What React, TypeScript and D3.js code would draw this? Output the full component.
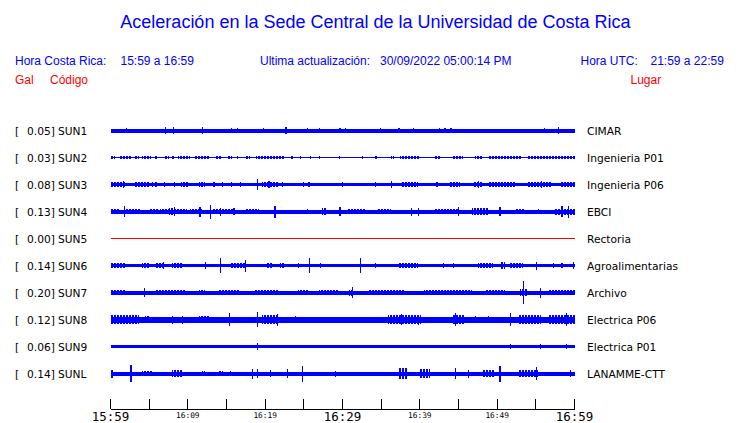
import React from "react";
import * as d3 from "d3";

const titleText = "Aceleración en la Sede Central de la Universidad de Costa Rica";
const localRange = "15:59 a 16:59";
const utcRange = "21:59 a 22:59";
const lastUpdate = "30/09/2022 05:00:14 PM";

const codes = ["SUN1", "SUN2", "SUN3", "SUN4", "SUN5", "SUN6", "SUN7", "SUN8", "SUN9", "SUNL"];
const peaks = [0.05, 0.03, 0.08, 0.13, 0.0, 0.14, 0.2, 0.12, 0.06, 0.14];
const places = [
  "CIMAR",
  "Ingenieria P01",
  "Ingenieria P06",
  "EBCI",
  "Rectoria",
  "Agroalimentarias",
  "Archivo",
  "Electrica P06",
  "Electrica P01",
  "LANAMME-CTT",
];

// background (noise) amplitude of each trace, relative units
const baseAmp = [2.0, 0.8, 1.8, 2.0, 0.5, 1.8, 2.0, 3.0, 1.5, 2.0];

// bursts: [startMinute, endMinute, amplitude]
const burstsSUN1 = [
  [2.0, 2.0, 2.4], [7.0, 7.0, 3.3], [8.1, 8.1, 3.3], [11.8, 12.0, 3.6], [15.6, 15.6, 2.7], [16.3, 16.5, 2.4],
  [19.7, 19.7, 2.7], [22.6, 22.8, 3.6], [25.4, 25.4, 2.5], [26.9, 27.1, 2.4], [29.5, 29.9, 2.4], [30.3, 30.3, 2.8],
  [34.8, 34.8, 2.6], [37.2, 37.4, 2.4], [39.1, 39.3, 2.4], [42.5, 42.6, 2.4], [43.1, 43.4, 2.7], [43.8, 44.1, 2.4],
  [56.0, 56.0, 2.6], [57.85, 57.85, 3.3],
];
const burstsSUN2 = [
  [0, 0.6, 1.3], [1.1, 2.8, 1.5], [3.2, 3.7, 1.2], [4.1, 5.2, 1.3], [5.8, 5.8, 1.2], [6.9, 7.5, 1.2], [8.0, 8.0, 1.2],
  [8.7, 10.3, 1.6], [10.8, 12.9, 1.4], [13.5, 14.4, 1.5], [15.1, 15.7, 1.3], [16.3, 16.3, 1.2], [17.4, 18.1, 1.2],
  [18.8, 22.6, 1.6], [23.4, 23.4, 1.2], [24.5, 24.5, 1.2], [25.8, 25.8, 1.2], [26.9, 26.9, 1.2], [29.5, 29.5, 1.2],
  [32.5, 32.5, 1.2], [34.2, 34.6, 1.3], [36.3, 36.6, 1.5], [37.4, 40.0, 1.5], [41.9, 42.6, 1.3], [44.1, 45.6, 1.4],
  [47.1, 48.2, 1.3], [48.8, 53.1, 1.4], [54.0, 60, 1.6],
];
const burstsSUN3 = [
  [0, 1.9, 2.4], [1.59, 1.59, 3.5], [3.2, 4.95, 2.3], [5.38, 5.38, 2.3], [5.8, 5.8, 2.3], [6.88, 6.88, 2.3],
  [8.17, 8.17, 2.3], [9.16, 10.0, 2.6], [11.4, 12.26, 2.4], [13.3, 13.3, 2.3], [14.4, 14.4, 2.4], [15.6, 15.6, 2.3],
  [16.77, 16.77, 2.3], [18.88, 18.88, 5.3], [19.57, 21.7, 2.9], [20.4, 20.6, 3.2], [22.15, 22.15, 2.3],
  [24.9, 24.9, 2.3], [25.6, 25.6, 2.3], [29.9, 29.9, 2.5], [34.2, 34.2, 2.3], [36.3, 36.3, 3.7], [37.6, 39.8, 2.5],
  [42.15, 42.15, 2.3], [43.9, 45.2, 2.6], [46.9, 48.2, 2.7], [47.5, 47.6, 3.2], [48.8, 52.3, 2.3], [54.0, 57.0, 2.7],
  [55.7, 55.7, 3.3], [58.1, 60, 2.4],
];
const burstsSUN4 = [
  [0, 1.08, 2.5], [1.72, 1.72, 5.8], [1.94, 3.87, 2.5], [4.95, 6.24, 2.4], [6.45, 9.89, 2.6], [7.53, 8.39, 3.2],
  [8.2, 8.3, 4.3], [10.3, 11.8, 2.7], [11.5, 11.5, 5.0], [12.9, 12.9, 7.0], [13.1, 16.1, 2.7], [14.19, 14.19, 4.0],
  [15.9, 15.9, 3.3], [17.42, 19.14, 2.6], [21.2, 21.2, 6.0], [25.4, 25.4, 2.8], [27.3, 27.96, 3.3],
  [29.46, 29.9, 4.3], [30.75, 32.9, 2.5], [34.4, 36.3, 2.4], [38.8, 38.8, 4.0], [39.7, 39.7, 4.0],
  [41.9, 44.9, 2.5], [44.9, 44.9, 4.7], [46.7, 48.8, 3.3], [50.3, 50.3, 4.2], [52.3, 53.5, 2.7], [55.3, 55.3, 2.8],
  [57.4, 60, 3.0], [58.3, 58.5, 5.5], [59.1, 59.1, 6.0],
];
const burstsSUN5: number[][] = [];
const burstsSUN6 = [
  [0, 1.94, 2.4], [1.38, 1.38, 2.8], [4.09, 4.95, 2.4], [5.8, 6.88, 2.3], [6.75, 6.75, 3.7], [7.96, 9.25, 2.5],
  [12.17, 12.17, 3.2], [14.19, 14.19, 7.5], [15.48, 17.42, 2.5], [17.33, 17.33, 6.0], [20.2, 20.86, 2.7],
  [21.9, 22.58, 2.5], [24.2, 24.2, 2.4], [25.7, 25.7, 7.8], [27.1, 27.1, 2.4], [32.26, 32.26, 7.8],
  [34.2, 34.2, 2.4], [37.2, 39.8, 2.3], [43.0, 43.0, 2.4], [44.3, 44.3, 2.4], [47.5, 49.5, 2.7], [50.5, 51.0, 3.7],
  [51.6, 53.3, 2.6], [55.05, 55.05, 4.0], [57.2, 57.2, 2.4], [58.3, 58.3, 2.4], [59.8, 59.8, 3.3],
];
const burstsSUN7 = [
  [0, 1.94, 2.5], [4.3, 4.52, 4.2], [5.8, 9.68, 2.5], [11.4, 12.26, 2.4], [13.98, 16.56, 2.5], [18.7, 21.7, 2.5],
  [24.3, 25.6, 2.4], [26.9, 29.46, 2.5], [30.9, 31.5, 3.0], [31.2, 31.2, 5.3], [33.3, 38.1, 2.4], [40.6, 46.7, 2.5],
  [48.4, 51.0, 2.4], [52.9, 54.0, 3.7], [53.3, 53.3, 11.5], [55.5, 55.5, 5.0], [56.6, 60, 2.5],
];
const burstsSUN8 = [
  [0, 3.66, 4.2], [1.72, 1.72, 4.8], [4.52, 4.95, 3.8], [7.96, 7.96, 4.0], [9.25, 9.25, 4.0], [11.4, 12.69, 3.8],
  [15.27, 15.27, 6.3], [18.88, 18.88, 7.5], [19.57, 21.7, 4.3], [21.5, 21.5, 6.0], [23.87, 23.87, 3.8],
  [35.9, 40.2, 4.2], [37.6, 37.6, 5.8], [39.8, 39.8, 5.0], [44.1, 45.8, 4.5], [44.5, 44.5, 6.3], [47.1, 47.1, 3.8],
  [48.8, 48.8, 3.8], [51.6, 51.6, 6.3], [52.7, 55.7, 4.2], [56.6, 60, 4.2], [58.9, 58.9, 6.3],
];
const burstsSUN9 = [
  [0.2, 0.2, 1.8], [3.0, 3.0, 1.8], [10.5, 10.5, 1.8], [15.27, 15.27, 1.8], [18.88, 18.88, 3.8], [21.5, 21.5, 1.8],
  [23.44, 23.44, 1.8], [29.0, 29.0, 1.8], [43.2, 43.2, 1.8], [51.6, 51.6, 2.8], [55.5, 55.5, 2.5], [58.9, 58.9, 2.5],
];
const burstsSUNL = [
  [0, 0.43, 4.0], [2.58, 2.58, 8.3], [4.09, 5.38, 2.5], [7.96, 9.25, 3.5], [11.8, 12.26, 2.5], [13.98, 14.6, 2.7],
  [15.48, 15.48, 2.4], [18.28, 18.28, 5.0], [18.92, 18.92, 4.7], [20.6, 20.6, 3.3], [22.8, 22.8, 4.5],
  [24.7, 24.7, 8.0], [29.0, 29.0, 3.0], [37.2, 38.5, 5.3], [40.0, 41.3, 4.7], [44.5, 44.5, 5.5], [46.2, 46.2, 4.0],
  [48.2, 49.7, 3.5], [50.3, 50.3, 8.0], [52.7, 55.3, 3.5], [55.05, 55.05, 6.3], [59.4, 59.4, 3.5],
];
const bursts = [
  burstsSUN1, burstsSUN2, burstsSUN3, burstsSUN4, burstsSUN5,
  burstsSUN6, burstsSUN7, burstsSUN8, burstsSUN9, burstsSUNL,
];

const tickMinutes = [0, 5, 10, 15, 20, 25, 30, 35, 40, 45, 50, 55, 60];
const tickLabels: Record<number, string> = { 0: "15:59", 10: "16:09", 20: "16:19", 30: "16:29", 40: "16:39", 50: "16:49", 60: "16:59" };
const majorTicks = [0, 30, 60];

const W = 740;
const H = 423;
const BLUE = "#0000ff";
const RED = "#ff0000";
const SANS = "'Liberation Sans', Arial, Helvetica, sans-serif";
const DJ = "'DejaVu Sans', sans-serif";
const MONO = "'DejaVu Sans Mono', monospace";

export default function App() {
  const x = d3.scaleLinear().domain([0, 60]).range([110.5, 574.5]);
  const y = d3.scalePoint<string>().domain(codes).range([130.5, 373.5]);
  const amp = d3.scaleLinear().domain([0, 13.5]).range([0, 13.5]);
  const axisY = 409;

  return (
    <svg width={W} height={H} style={{ position: "absolute", left: 0, top: 0, background: "#fff" }}>
      <defs>
        <pattern id="ragged" width={3} height={30} patternUnits="userSpaceOnUse">
          <rect x={0} y={0} width={2} height={30} fill={BLUE} />
        </pattern>
      </defs>
      <text x={375.5} y={28} textAnchor="middle" fontFamily={SANS} fontSize={18} fill={BLUE}>
        {titleText}
      </text>
      <g fontFamily={SANS} fontSize={12} fill={BLUE}>
        <text x={15} y={65}>Hora Costa Rica:</text>
        <text x={120.5} y={65}>{localRange}</text>
        <text x={260} y={65}>Ultima actualización:</text>
        <text x={380} y={65}>{lastUpdate}</text>
        <text x={580.5} y={65}>Hora UTC:</text>
        <text x={650.5} y={65}>{utcRange}</text>
      </g>
      <g fontFamily={SANS} fontSize={12} fill={RED}>
        <text x={15} y={84}>Gal</text>
        <text x={50} y={84}>Código</text>
        <text x={630.5} y={84}>Lugar</text>
      </g>

      {codes.map((c, i) => {
        const cy = y(c) as number;
        const color = peaks[i] === 0 ? RED : BLUE;
        const b = amp(baseAmp[i]);
        return (
          <g key={c}>
            <g fontFamily={DJ} fontSize={10.67} fill="#000">
              <text x={15} y={cy + 4}>[</text>
              <text x={27} y={cy + 4}>{peaks[i].toFixed(2) + "]"}</text>
              <text x={58} y={cy + 4}>{c}</text>
              <text x={587} y={cy + 4}>{places[i]}</text>
            </g>
            <g shapeRendering="crispEdges">
              <rect x={x(0)} y={cy - b} width={x(60) - x(0)} height={2 * b} fill={color} />
              {bursts[i].map((s, j) => {
                const x0 = x(s[0]);
                const wide = x(s[1]) - x0 > 2;
                const w = Math.max(x(s[1]) - x0, 1.2);
                const a = amp(s[2]);
                return (
                  <rect
                    key={j}
                    x={Math.min(x0, x(60) - w)}
                    y={cy - a}
                    width={w}
                    height={2 * a}
                    fill={wide ? "url(#ragged)" : color}
                  />
                );
              })}
            </g>
          </g>
        );
      })}

      <g stroke="#000" strokeWidth={1} shapeRendering="crispEdges">
        <line x1={x(0)} x2={x(60)} y1={axisY} y2={axisY} />
        {tickMinutes.map((m) => (
          <line key={m} x1={x(m)} x2={x(m)} y1={axisY - 10} y2={axisY} />
        ))}
      </g>
      <g fontFamily={MONO} fill="#000" textAnchor="middle">
        {tickMinutes
          .filter((m) => tickLabels[m])
          .map((m) => {
            const major = majorTicks.includes(m);
            return (
              <text key={m} x={x(m)} y={major ? 421 : 418} fontSize={major ? 12.5 : 7.8}>
                {tickLabels[m]}
              </text>
            );
          })}
      </g>
    </svg>
  );
}
